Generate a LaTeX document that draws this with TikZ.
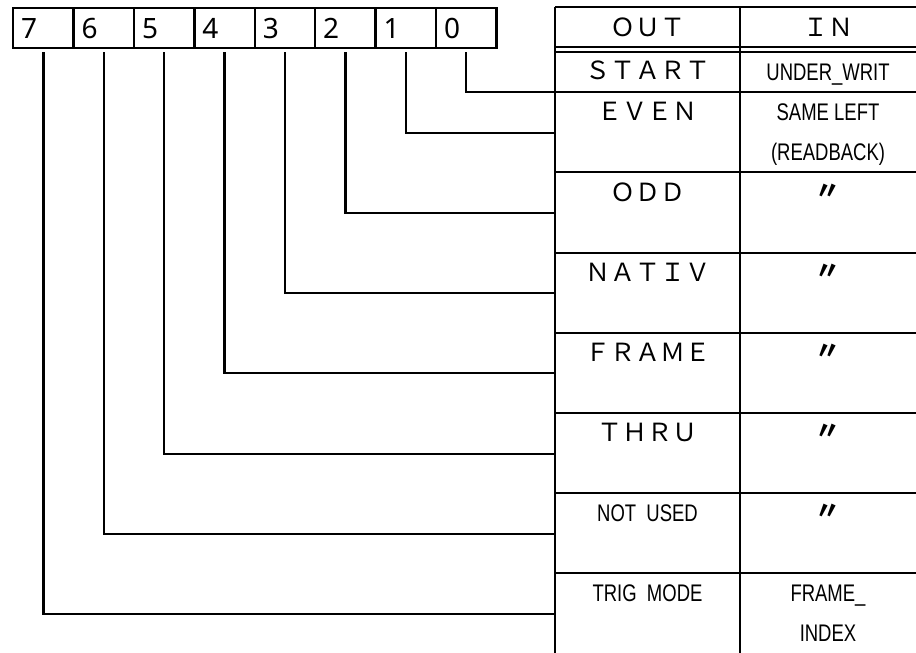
\documentclass[tikz,border=0pt]{standalone}
\usepackage{fontspec}
\setmainfont{Noto Sans}
\newfontfamily\jpfont{Noto Sans CJK JP}
\newfontfamily\narrowfont[FakeStretch=0.77]{Liberation Sans}
\begin{document}
\begin{tikzpicture}[x=1pt,y=-1pt,
  bitcell/.style={draw, line width=2.4pt, text width=44.4pt, inner xsep=8pt, inner ysep=0pt,
                  minimum height=40pt, align=left, anchor=north west,
                  font=\fontsize{28}{28}\selectfont},
  conn/.style={line width=2.4pt},
  grid/.style={line width=2.4pt},
  thin/.style={line width=2pt},
  wide/.style={font=\jpfont\fontsize{25}{25}\selectfont, anchor=base, inner sep=0pt},
  half/.style={font=\narrowfont\fontsize{24}{24}\selectfont, anchor=base, inner sep=0pt},
  ditto/.style={font=\jpfont\bfseries\fontsize{25}{25}\selectfont, anchor=center, inner sep=0pt}]
\useasboundingbox (0,0) rectangle (916,653);

% register cells
\node[bitcell] (b7) at (12.0,7) {7};
\node[bitcell] (b6) at (72.4,7) {6};
\node[bitcell] (b5) at (132.8,7) {5};
\node[bitcell] (b4) at (193.2,7) {4};
\node[bitcell] (b3) at (253.6,7) {3};
\node[bitcell] (b2) at (314.0,7) {2};
\node[bitcell] (b1) at (374.4,7) {1};
\node[bitcell] (b0) at (434.8,7) {0};

% table frame
\draw[grid] (555,7) -- (555,653);
\draw[grid] (740,7) -- (740,653);
\draw[grid] (555,7) -- (916,7);
\draw[thin] (555,46.5) -- (916,46.5);
\draw[thin] (555,51.5) -- (916,51.5);
\foreach \yy in {92,172,253,333,413,493,573}
  \draw[grid] (555,\yy) -- (916,\yy);

% connector end points on the table edge
\coordinate (t0) at (555,92);
\coordinate (t1) at (555,133);
\coordinate (t2) at (555,213);
\coordinate (t3) at (555,293);
\coordinate (t4) at (555,373);
\coordinate (t5) at (555,454);
\coordinate (t6) at (555,534);
\coordinate (t7) at (555,614);

\foreach \i in {0,...,7}
  \draw[conn] ([yshift=-3pt]b\i.south) |- (t\i);

% table texts
\node[wide] (hout) at (647.5,36) {ＯＵＴ};
\node[wide] (hin)  at (828,36) {ＩＮ};
\node[wide] (o0) at (647.5,79) {ＳＴＡＲＴ};
\node[half] (i0) at (828,80) {UNDER\_WRIT};
\node[wide] (o1) at (647.5,120) {ＥＶＥＮ};
\node[half] (i1a) at (828,120) {SAME LEFT};
\node[half] (i1b) at (828,160) {(READBACK)};
\node[wide] (o2) at (647.5,201) {ＯＤＤ};
\node[ditto] (i2) at (828,192) {〃};
\node[wide] (o3) at (647.5,281) {ＮＡＴＩＶ};
\node[ditto] (i3) at (828,272) {〃};
\node[wide] (o4) at (647.5,361) {ＦＲＡＭＥ};
\node[ditto] (i4) at (828,352) {〃};
\node[wide] (o5) at (647.5,441) {ＴＨＲＵ};
\node[ditto] (i5) at (828,432) {〃};
\node[half] (o6) at (647.5,521) {NOT\ \ USED};
\node[ditto] (i6) at (828,512) {〃};
\node[half] (o7) at (647.5,601) {TRIG\ \ MODE};
\node[half] (i7a) at (828,601) {FRAME\_};
\node[half] (i7b) at (828,641) {INDEX};
\end{tikzpicture}
\end{document}
